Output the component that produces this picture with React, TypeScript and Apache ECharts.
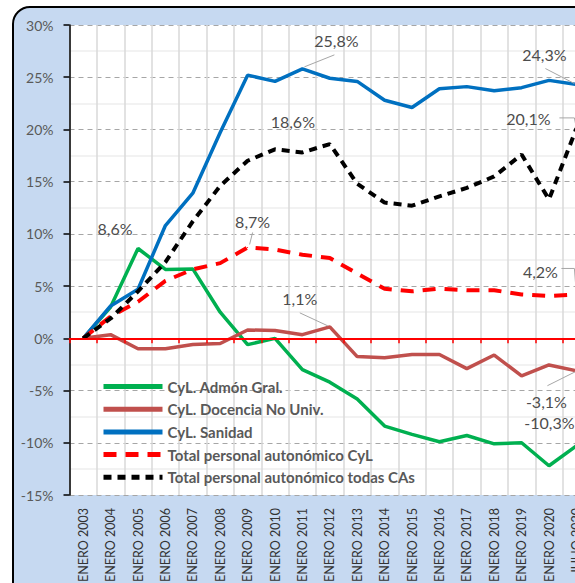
import React, { useEffect, useRef } from "react";
import * as echarts from "echarts";

const categories = [
  "ENERO 2003", "ENERO 2004", "ENERO 2005", "ENERO 2006", "ENERO 2007",
  "ENERO 2008", "ENERO 2009", "ENERO 2010", "ENERO 2011", "ENERO 2012",
  "ENERO 2013", "ENERO 2014", "ENERO 2015", "ENERO 2016", "ENERO 2017",
  "ENERO 2018", "ENERO 2019", "ENERO 2020", "JULIO 2020",
];

const admonGral = [0, 3.0, 8.6, 6.6, 6.65, 2.5, -0.6, 0.0, -3.0, -4.2, -5.8, -8.4, -9.2, -9.9, -9.3, -10.1, -10.0, -12.2, -10.3];
const docencia = [0, 0.35, -1.0, -1.0, -0.6, -0.5, 0.8, 0.75, 0.35, 1.1, -1.75, -1.85, -1.55, -1.55, -2.9, -1.6, -3.6, -2.55, -3.1];
const sanidad = [0, 3.1, 4.7, 10.8, 13.9, 19.7, 25.2, 24.6, 25.8, 24.9, 24.6, 22.8, 22.1, 23.9, 24.1, 23.7, 24.0, 24.7, 24.3];
const totalCyL = [0, 2.1, 3.5, 5.5, 6.6, 7.2, 8.7, 8.5, 8.0, 7.7, 6.2, 4.75, 4.5, 4.75, 4.6, 4.6, 4.2, 4.05, 4.2];
const totalCAs = [0, 1.9, 4.5, 7.3, 11.2, 14.6, 17.0, 18.1, 17.8, 18.6, 14.8, 13.0, 12.7, 13.6, 14.4, 15.5, 17.6, 13.3, 20.1];

const seriesNames = [
  "CyL. Admón Gral.",
  "CyL. Docencia No Univ.",
  "CyL. Sanidad",
  "Total personal autonómico CyL",
  "Total personal autonómico todas CAs",
];

const yMin = -15;
const yMax = 30;
const yStep = 5;

const FONT = "Lato, 'Noto Sans', sans-serif";

type Offsets = Record<number, [number, number]>;

function fmt(v: number) {
  return v.toFixed(1).replace(".", ",") + "%";
}

function buildData(values: number[], offsets: Offsets) {
  return values.map((v, i) => {
    if (offsets[i]) {
      return {
        value: v,
        symbol: "circle",
        symbolSize: 1,
        label: { show: true },
      };
    }
    return { value: v };
  });
}

export default function App() {
  const ref = useRef<HTMLDivElement>(null);

  useEffect(() => {
    if (!ref.current) return;
    const chart = echarts.init(ref.current, null, { renderer: "svg" });

    // label centre offset from the point, relative to a default "above" spot
    const labelOffsets: Offsets[] = [
      { 2: [-23, -7], 18: [-27, -10] },
      { 9: [-30, -15], 18: [-30, 44] },
      { 8: [34, -15], 18: [-32, -17] },
      { 6: [5, -13], 18: [-36, -10] },
      { 9: [-37, -10], 18: [-48, 3] },
    ];
    // leader lines: series, data index, vertex offsets from the point
    const leaders: { s: number; i: number; pts: number[][] }[] = [
      { s: 2, i: 8, pts: [[2, -2], [32, -14]] },
      { s: 3, i: 6, pts: [[2, -3], [5, -15]] },
      { s: 1, i: 9, pts: [[-2, -1], [-30, -14]] },
      { s: 2, i: 18, pts: [[-2, -1], [-31, -16]] },
      { s: 4, i: 18, pts: [[0, 0], [-2, -10.5], [-17, -10.5]] },
      { s: 3, i: 18, pts: [[0, 0], [-2, -26], [-15, -26]] },
      { s: 1, i: 18, pts: [[-1, 1], [-29, 15]] },
    ];
    const values = [admonGral, docencia, sanidad, totalCyL, totalCAs];
    const colors = ["#00B050", "#C0504D", "#0070C0", "#FF0000", "#000000"];
    const widths = [3.5, 3.5, 3.5, 4, 4];
    const dashes: any[] = ["solid", "solid", "solid", [13, 9], [8, 6]];

    const series = values.map((vals, s) => ({
      name: seriesNames[s],
      type: "line",
      xAxisIndex: 0,
      yAxisIndex: 0,
      data: buildData(vals, labelOffsets[s]),
      symbol: "none",
      showSymbol: true,
      color: colors[s],
      lineStyle: { color: colors[s], width: widths[s], type: dashes[s] },
      itemStyle: { color: colors[s] },
      z: 3 + s,
      label: {
        show: false,
        position: "top",
        formatter: (p: any) => fmt(p.value),
        color: "#4D4D4D",
        fontSize: 16,
        fontFamily: FONT,
      },
      labelLayout: (p: any) => {
        const o = labelOffsets[s][p.dataIndex];
        if (!o) return {};
        const cx = p.rect.x + p.rect.width / 2;
        const cy = p.rect.y + p.rect.height / 2;
        return {
          x: cx + o[0],
          y: cy - 13 + o[1],
          align: "center",
          verticalAlign: "middle",
        };
      },
      emphasis: { disabled: true },
    }));

    chart.setOption({
      animation: false,
      textStyle: { fontFamily: FONT },
      grid: {
        left: 69.5,
        top: 25,
        width: 520.6,
        height: 470,
        show: true,
        backgroundColor: "#FFFFFF",
        borderWidth: 0,
      },
      legend: {
        orient: "vertical",
        left: 96,
        top: 374,
        itemWidth: 59,
        itemHeight: 14,
        itemGap: 7.7,
        data: seriesNames,
        itemStyle: { opacity: 0 },
        lineStyle: { width: 5 },
        textStyle: {
          color: "#595959",
          fontSize: 15,
          fontWeight: "bold",
          fontFamily: FONT,
        },
        selectedMode: false,
      },
      xAxis: [
        {
          type: "category",
          data: categories,
          position: "bottom",
          boundaryGap: true,
          axisLine: { show: false, onZero: false },
          axisTick: { show: false },
          axisLabel: {
            rotate: 90,
            interval: 0,
            fontSize: 12.5,
            color: "#333333",
            margin: 13,
            fontFamily: FONT,
          },
          splitLine: { show: true, lineStyle: { color: "#D9D9D9", width: 1.5 } },
        },
        {
          type: "category",
          data: categories,
          position: "bottom",
          boundaryGap: true,
          axisLine: { show: true, onZero: true, lineStyle: { color: "#FF0000", width: 2 } },
          axisTick: { show: true, length: 5, interval: 0, lineStyle: { color: "#FF0000", width: 1.5 } },
          axisLabel: { show: false },
          splitLine: { show: false },
          z: 8,
        },
      ],
      yAxis: {
        type: "value",
        min: yMin,
        max: yMax,
        interval: yStep,
        axisLine: { show: true, lineStyle: { color: "#000000", width: 1.5 } },
        axisTick: { show: true, length: 6, lineStyle: { color: "#000000", width: 1.5 } },
        axisLabel: {
          formatter: "{value}%",
          color: "#595959",
          fontSize: 14,
          margin: 16,
          fontFamily: FONT,
        },
        splitLine: { show: true, lineStyle: { color: "#A6A6A6", width: 1, type: [5, 4] } },
        minorTick: { show: false, splitNumber: 2 },
        minorSplitLine: { show: true, lineStyle: { color: "#EEEEEE", width: 1.5 } },
      },
      series,
    });

    const graphics = leaders.map((l) => {
      const p = chart.convertToPixel({ xAxisIndex: 0, yAxisIndex: 0 }, [l.i, values[l.s][l.i]]) as number[];
      return {
        type: "polyline",
        silent: true,
        z: 20,
        shape: { points: l.pts.map((o) => [p[0] + o[0], p[1] + o[1]]) },
        style: { stroke: "#A6A6A6", lineWidth: 1, fill: "none" },
      };
    });
    chart.setOption({ graphic: graphics });

    return () => chart.dispose();
  }, []);

  return (
    <div
      style={{
        position: "fixed",
        left: 0,
        top: 0,
        width: 575,
        height: 583,
        overflow: "hidden",
        background: "#FFFFFF",
      }}
    >
      <div
        style={{
          position: "absolute",
          left: 12,
          top: 6,
          width: 700,
          height: 700,
          border: "2px solid #000",
          borderRadius: 18,
          background: "#C6D9F1",
          boxSizing: "border-box",
        }}
      />
      <div ref={ref} style={{ position: "absolute", left: 0, top: 0, width: 640, height: 640 }} />
    </div>
  );
}
